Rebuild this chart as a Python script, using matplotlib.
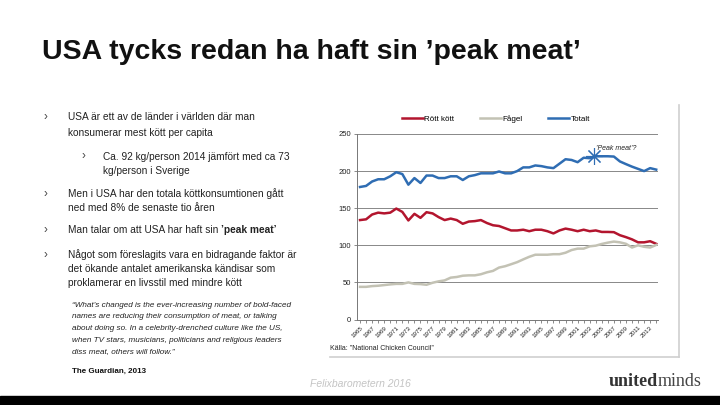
import numpy as np
import matplotlib
matplotlib.use('Agg')
import matplotlib.pyplot as plt
from matplotlib.lines import Line2D
from matplotlib.patches import Rectangle

plt.rcParams['font.family'] = ['Liberation Sans', 'DejaVu Sans']

years = np.arange(1965, 2015)
rott_kott = [134, 135, 141.5, 144, 143, 144, 149.5, 145, 133.5, 142.4,
             137, 144.6, 143, 138, 134, 136, 134, 129, 132, 132.6,
             134, 130, 127, 126, 123, 120, 120, 121, 119, 121,
             121, 119, 116, 120, 122.5, 121, 119, 121, 119, 120,
             118, 118, 117.7, 113.6, 111, 108, 104, 104, 105.5, 102]
fagel = [44, 44, 45, 45.5, 46.4, 47.3, 48, 48, 50, 48,
         47.7, 46.8, 49.5, 51.4, 52.7, 56.4, 57.3, 59, 59.5, 59.5,
         61, 63.6, 65.5, 70, 71.8, 74.5, 77.3, 81, 84.5, 87.3,
         87.3, 87.3, 88, 88, 90, 93.6, 95.5, 95.5, 98.6, 99.5,
         101.8, 103.6, 105, 104, 102, 97, 100, 98, 97, 100.5]
totalt = [178.6, 180, 186, 189, 189, 193, 198.5, 196, 181.7, 190.6,
          184, 194, 194, 190.6, 190.6, 193, 193, 188, 193, 194.6,
          197, 197, 197, 199.5, 197, 197, 200, 205, 205, 207.6,
          206.7, 205, 204, 210, 216, 215, 212, 218, 217.4, 220,
          220, 220, 219.6, 213, 209.4, 206, 203, 200, 204, 202]
peak_year, peak_value = 2003.7, 220
xtick_years = list(range(1965, 2014, 2))
yticks = [0, 50, 100, 150, 200, 250]

RED = '#b3152e'
GREY = '#c3c2b4'
BLUE = '#2f6db3'

bullets = [
    (68, 117, "USA är ett av de länder i världen där man"),
    (68, 132.5, "konsumerar mest kött per capita"),
    (103, 156.5, "Ca. 92 kg/person 2014 jämfört med ca 73"),
    (103, 171, "kg/person i Sverige"),
    (68, 193.5, "Men i USA har den totala köttkonsumtionen gått"),
    (68, 207.5, "ned med 8% de senaste tio åren"),
    (68, 255, "Något som föreslagits vara en bidragande faktor är"),
    (68, 269.5, "det ökande antalet amerikanska kändisar som"),
    (68, 283.5, "proklamerar en livsstil med mindre kött"),
]
bullet_marks = [(44, 117), (82, 156.5), (44, 193.5), (44, 230.5), (44, 255)]
quote = [
    "\u201cWhat\u2019s changed is the ever-increasing number of bold-faced",
    "names are reducing their consumption of meat, or talking",
    "about doing so. In a celebrity-drenched culture like the US,",
    "when TV stars, musicians, politicians and religious leaders",
    "diss meat, others will follow.\u201d",
]

W, H = 720, 405


def fx(x):
    return x / W


def fy(y):
    return 1 - y / H


def right_edge(fig, txt):
    # right end of a text in figure pixels
    bb = txt.get_window_extent(renderer=fig.canvas.get_renderer())
    return bb.x1


fig = plt.figure(figsize=(7.2, 4.05), dpi=100)
fig.patch.set_facecolor('white')

# title
fig.text(fx(42), fy(52), "USA tycks redan ha haft sin \u2019peak meat\u2019",
         fontsize=20.5, fontweight='bold', va='center', ha='left', color='#111111')

# bullets
for x, y, s in bullets:
    fig.text(fx(x), fy(y), s, fontsize=7.3, va='center', ha='left', color='#222222')
t = fig.text(fx(68), fy(230.5), "Man talar om att USA har haft sin ", fontsize=7.3,
             va='center', ha='left', color='#222222')
fig.text(fx(right_edge(fig, t)), fy(230.5), "\u2019peak meat\u2019", fontsize=7.3,
         fontweight='bold', va='center', ha='left', color='#222222')
for x, y in bullet_marks:
    fig.text(fx(x), fy(y), "\u203a", fontsize=8.5, va='center', ha='left', color='#444444')

for i, line in enumerate(quote):
    fig.text(fx(72), fy(305.5 + i * 11.5), line, fontsize=5.85, style='italic',
             va='center', ha='left', color='#222222')
fig.text(fx(72), fy(371), "The Guardian, 2013", fontsize=5.8, fontweight='bold',
         va='center', ha='left', color='#111111')

# chart panel shadow
fig.add_artist(Line2D([fx(679), fx(679)], [fy(105), fy(357)], color='#cfcfcf', lw=1.2))
fig.add_artist(Line2D([fx(330), fx(679)], [fy(357), fy(357)], color='#cfcfcf', lw=1.2))

ax = fig.add_axes([fx(357), fy(319.5), (658 - 357) / W, (319.5 - 134) / H])
ax.set_facecolor('none')
ax.plot(years, rott_kott, color=RED, lw=1.8, label='Rött kött')
ax.plot(years, fagel, color=GREY, lw=1.8, label='Fågel')
ax.plot(years, totalt, color=BLUE, lw=1.8, label='Totalt')
ax.plot(peak_year, peak_value, marker=(8, 2, 0), ms=12, mew=0.8, color=BLUE)
ax.text(peak_year + 0.3, peak_value + 11, "\u2019Peak meat\u2019?", fontsize=5,
        style='italic', ha='left', va='center', color='#222222')

ax.set_ylim(0, 250)
ax.set_xlim(1964.5, 2014.3)
ax.set_yticks(yticks)
ax.set_yticklabels([str(v) for v in yticks], fontsize=5.5, color='#222222')
ax.set_xticks(years, minor=True)
ax.set_xticks(xtick_years)
ax.set_xticklabels([str(y) for y in xtick_years], rotation=45, ha='right',
                   rotation_mode='anchor', fontsize=4.5, color='#222222')
ax.tick_params(axis='x', which='both', length=2.5, width=0.6, color='#777777', pad=1.5)
ax.tick_params(axis='y', length=2.5, width=0.6, color='#777777', pad=2)
ax.grid(axis='y', color='#888888', lw=0.7)
for side in ['top', 'right']:
    ax.spines[side].set_visible(False)
for side in ['left', 'bottom']:
    ax.spines[side].set_color('#777777')
    ax.spines[side].set_linewidth(0.7)

ax.legend(loc='center', bbox_to_anchor=(fx(496), fy(119)), bbox_transform=fig.transFigure,
          ncol=3, frameon=False, fontsize=5.8, handlelength=2.6, columnspacing=3.2,
          handletextpad=0.2)

fig.text(fx(330), fy(348), "Källa: \u201dNational Chicken Council\u201d", fontsize=5,
         va='center', ha='left', color='#222222')

# footer
fig.text(fx(310), fy(384), "Felixbarometern 2016", fontsize=7.5, style='italic',
         va='center', ha='left', color='#c4c4c4')
t = fig.text(fx(609), fy(382), "united", fontsize=13, fontweight='bold',
             family='Liberation Serif', va='center', ha='left', color='#333333')
fig.text(fx(right_edge(fig, t)), fy(382), "minds", fontsize=13, family='Liberation Serif',
         va='center', ha='left', color='#444444')

fig.add_artist(Rectangle((0, 0), 1, 9 / H, transform=fig.transFigure,
                         color='black', zorder=10))

fig.savefig('out.png', dpi=100)
